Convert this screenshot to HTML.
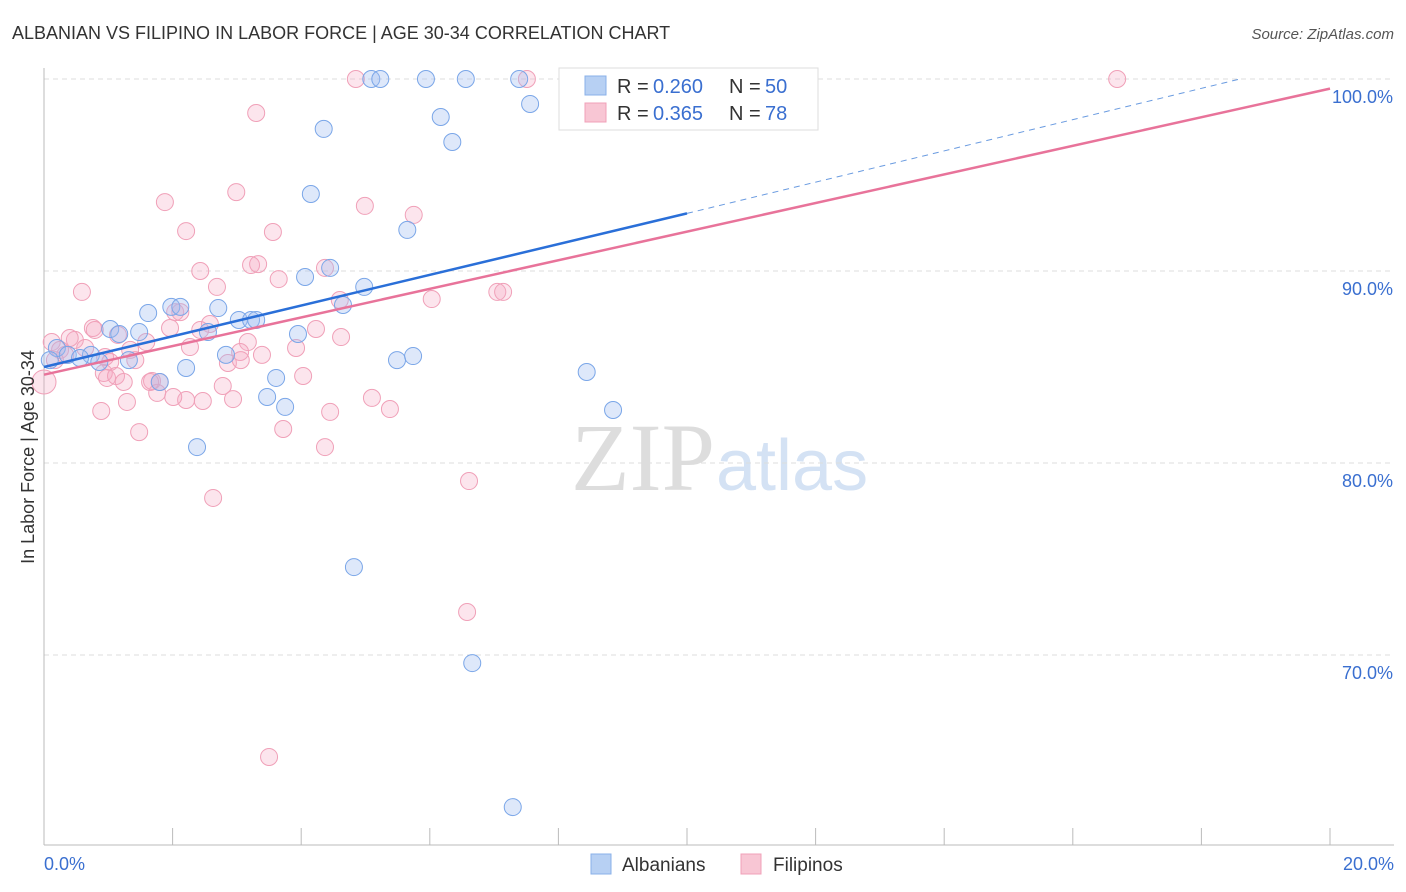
<!DOCTYPE html>
<html><head><meta charset="utf-8"><style>
body{margin:0;background:#fff;font-family:"Liberation Sans",sans-serif}
svg{display:block}
</style></head><body>
<svg id="c" width="1406" height="892" xmlns="http://www.w3.org/2000/svg">
<text x="12" y="39" font-size="18" fill="#333">ALBANIAN VS FILIPINO IN LABOR FORCE | AGE 30-34 CORRELATION CHART</text>
<text x="1394" y="39" font-size="15" fill="#555" font-style="italic" text-anchor="end">Source: ZipAtlas.com</text>
<text x="715" y="490" font-size="96" fill="#ddd" text-anchor="end" font-family="Liberation Serif">ZIP</text>
<text x="716" y="490" font-size="72" fill="#d4e2f4">atlas</text>
<g id="grid"></g><g id="pts"></g><g id="lines"></g>
<text transform="translate(34,457) rotate(-90)" font-size="18" fill="#333" text-anchor="middle">In Labor Force | Age 30-34</text>
<g>
<rect x="559" y="68" width="259" height="62" fill="#fff" stroke="#ddd"/>
<rect x="585" y="76" width="21" height="19" fill="#b7d0f3" stroke="#8ab0e8"/>
<rect x="585" y="103" width="21" height="19" fill="#f8c6d4" stroke="#f0a0b8"/>
<text x="617" y="93" font-size="20" fill="#333">R =</text>
<text x="653" y="93" font-size="20" fill="#3a6fd0">0.260</text>
<text x="729" y="93" font-size="20" fill="#333">N =</text>
<text x="765" y="93" font-size="20" fill="#3a6fd0">50</text>
<text x="617" y="120" font-size="20" fill="#333">R =</text>
<text x="653" y="120" font-size="20" fill="#3a6fd0">0.365</text>
<text x="729" y="120" font-size="20" fill="#333">N =</text>
<text x="765" y="120" font-size="20" fill="#3a6fd0">78</text>
</g>
<g>
<rect x="591" y="854" width="20" height="20" fill="#b7d0f3" stroke="#8ab0e8"/>
<text x="622" y="871" font-size="19" fill="#333">Albanians</text>
<rect x="741" y="854" width="20" height="20" fill="#f8c6d4" stroke="#f0a0b8"/>
<text x="773" y="871" font-size="19" fill="#333">Filipinos</text>
</g>
</svg>
<script>
const xTicks=[0,2,4,6,8,10,12,14,16,18,20];
const yTicks=[70,80,90,100];
const yTickLabels=["70.0%","80.0%","90.0%","100.0%"];
const bluePx=[[371,79],[380,79],[426,79],[466,79],[519,79],[643,79],[573,79],[530,104],[441,117],[452,142],[324,129],[311,194],[407,230],[330,268],[305,277],[364,287],[343,305],[171,307],[180,307],[218,308],[148,313],[239,320],[251,320],[256,320],[208,332],[110,329],[139,332],[119,334],[298,334],[57,348],[68,355],[91,355],[80,358],[99,362],[129,360],[226,355],[186,368],[397,360],[413,356],[587,372],[276,378],[267,397],[285,407],[613,410],[197,447],[354,567],[472,663],[513,807],[50,360],[160,382]];
const pinkPx=[[356,79],[527,79],[800,79],[1117,79],[256,113],[165,202],[236,192],[365,206],[414,215],[186,231],[273,232],[200,271],[251,265],[258,264],[279,279],[325,268],[217,287],[82,292],[432,299],[497,292],[503,292],[175,312],[93,328],[210,324],[170,328],[316,329],[341,337],[52,342],[75,340],[118,335],[60,350],[248,342],[146,342],[190,347],[296,348],[130,350],[55,360],[105,357],[110,362],[240,352],[228,363],[241,360],[44,382],[104,373],[107,378],[116,376],[124,382],[152,381],[160,382],[223,386],[303,376],[372,398],[157,393],[186,400],[173,397],[203,401],[233,399],[127,402],[101,411],[330,412],[390,409],[139,432],[283,429],[325,447],[469,481],[213,498],[467,612],[269,757],[65,355],[85,348],[135,360],[200,330],[150,382],[70,338],[95,330],[180,312],[340,300],[262,355]];
const blueX=bluePx.map(p=>+((p[0]-44)/64.3).toFixed(2)), blueY=bluePx.map(p=>+(100-(p[1]-79)/19.2).toFixed(2));
const pinkX=pinkPx.map(p=>+((p[0]-44)/64.3).toFixed(2)), pinkY=pinkPx.map(p=>+(100-(p[1]-79)/19.2).toFixed(2));
const blueTrend=[[0,85.0],[10,93.0],[18.6,100]];
const pinkTrend=[[0,84.6],[20,99.5]];
const X=v=>44+v*64.3, Y=v=>79+(100-v)*19.2;
const NS="http://www.w3.org/2000/svg";
function mk(t,a,p){const e=document.createElementNS(NS,t);for(const k in a)e.setAttribute(k,a[k]);p.appendChild(e);return e;}
const g=document.getElementById('grid');
yTicks.forEach((v,i)=>{const l=mk('line',{x1:44,x2:1394,y1:Y(v),y2:Y(v),stroke:'#ddd','stroke-dasharray':'5,4'},g);

const t=mk('text',{x:1393,y:Y(v)+24,'font-size':18,fill:'#3a6fd0','text-anchor':'end'},g);t.textContent=yTickLabels[i];
});
const ax=mk('line',{x1:44,x2:44,y1:68,y2:845,stroke:'#bbb'},g);
const bx=mk('line',{x1:44,x2:1394,y1:845,y2:845,stroke:'#bbb'},g);
xTicks.forEach(v=>{const l=mk('line',{x1:X(v),x2:X(v),y1:828,y2:845,stroke:'#bbb'},g);});
[[0,"0.0%",'start',44],[20,"20.0%",'end',1394]].forEach(a=>{const t=mk('text',{x:a[3],y:870,'font-size':18,fill:'#3a6fd0','text-anchor':a[2]},g);t.textContent=a[1];});
const pg=document.getElementById('pts');
pinkX.forEach((x,i)=>{const c=mk('circle',{cx:X(x),cy:Y(pinkY[i]),r:i==42?12:8.5,fill:'rgba(245,170,195,0.3)',stroke:'#f0a0b8','stroke-width':1},pg);});
blueX.forEach((x,i)=>{const c=mk('circle',{cx:X(x),cy:Y(blueY[i]),r:8.5,fill:'rgba(160,190,240,0.35)',stroke:'#7aa6e8','stroke-width':1},pg);});
const lg=document.getElementById('lines');
let l1=mk('line',{x1:X(blueTrend[0][0]),y1:Y(blueTrend[0][1]),x2:X(blueTrend[1][0]),y2:Y(blueTrend[1][1]),stroke:'#2a6fd8','stroke-width':2.5},lg);

let l2=mk('line',{x1:X(blueTrend[1][0]),y1:Y(blueTrend[1][1]),x2:X(blueTrend[2][0]),y2:Y(blueTrend[2][1]),stroke:'#6a9be0','stroke-width':1,'stroke-dasharray':'6,5'},lg);

let l3=mk('line',{x1:X(pinkTrend[0][0]),y1:Y(pinkTrend[0][1]),x2:X(pinkTrend[1][0]),y2:Y(pinkTrend[1][1]),stroke:'#e8739a','stroke-width':2.5},lg);

</script>
</body></html>
